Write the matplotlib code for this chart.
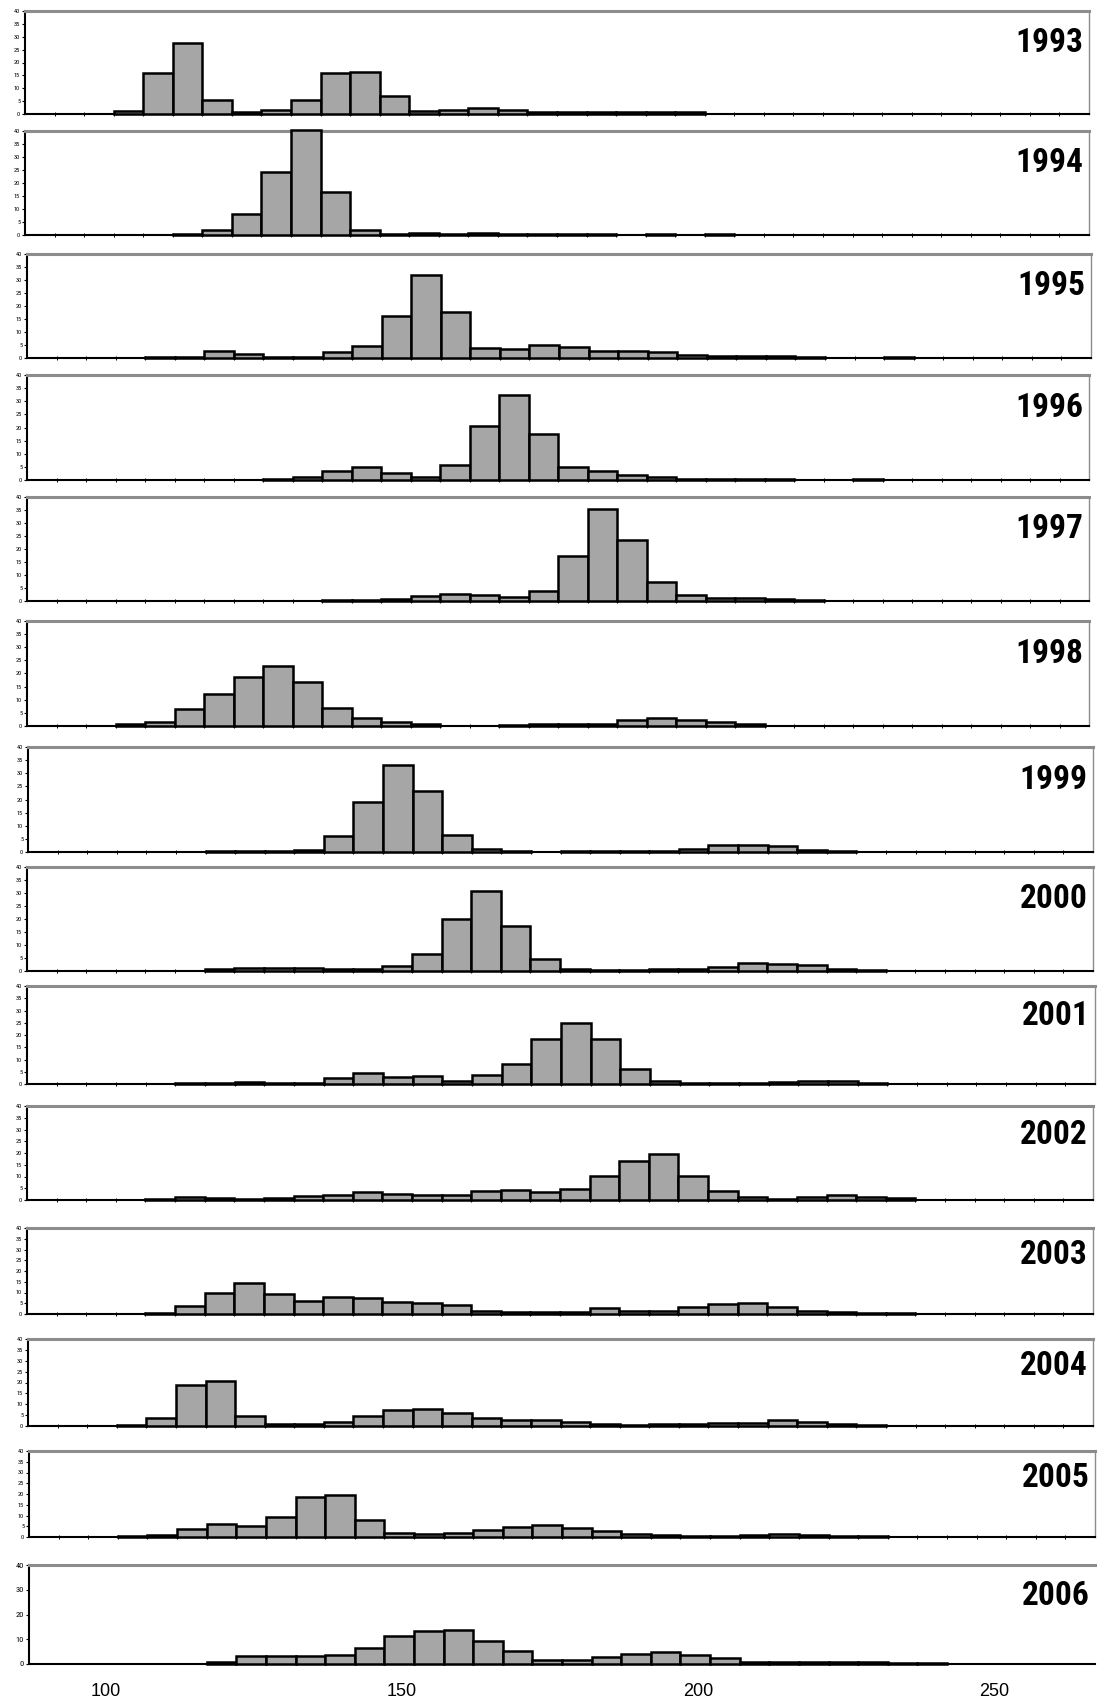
import matplotlib
matplotlib.use("Agg")
import matplotlib.pyplot as plt
import numpy as np

# length classes: 36 bins of 5 units starting at 87
bin_start = 87
bin_width = 5
n_bins = 36

years = ["1993", "1994", "1995", "1996", "1997", "1998", "1999",
         "2000", "2001", "2002", "2003", "2004", "2005", "2006"]

c1993 = [0, 0, 0, 1.3, 15.9, 27.4, 5.3, 0.8, 1.4, 5.5, 15.9, 16.3, 6.8, 1.0, 1.5, 2.2,
         1.5, 0.6, 0.6, 0.8, 0.6, 0.6, 0.6] + [0] * 13
c1994 = [0, 0, 0, 0, 0, 0.3, 1.9, 8.2, 24.4, 40.4, 16.5, 2.0, 0.5, 0.7, 0.5, 0.8,
         0.3, 0.5, 0.5, 0.3, 0, 0.3, 0, 0.3] + [0] * 12
c1995 = [0, 0, 0, 0, 0.2, 0.5, 2.6, 1.7, 0.4, 0.4, 2.2, 4.6, 16, 32, 17.8, 4.0, 3.3,
         5.0, 4.1, 2.6, 2.6, 2.3, 1.0, 0.8, 0.8, 0.8, 0.5, 0, 0, 0.5] + [0] * 6
c1996 = [0, 0, 0, 0, 0, 0, 0, 0, 0.3, 1.0, 3.3, 5.1, 2.7, 1.2, 5.7, 20.6, 32.4, 17.7,
         4.9, 3.3, 2.0, 1.0, 0.5, 0.5, 0.3, 0.3, 0, 0, 0.3] + [0] * 7
c1997 = [0] * 10 + [0.3, 0.3, 0.8, 2.0, 2.6, 2.3, 1.7, 3.7, 17.4, 35.3, 23.6, 7.2,
                    2.2, 1.0, 1.0, 0.8, 0.5] + [0] * 9
c1998 = [0, 0, 0, 0.6, 1.5, 6.4, 12.2, 18.5, 22.7, 16.8, 6.9, 3.1, 1.5, 0.6, 0, 0,
         0.4, 0.6, 0.9, 0.6, 2.2, 2.9, 2.4, 1.6, 0.9] + [0] * 11
c1999 = [0] * 6 + [0.5, 0.5, 0.5, 0.9, 6.0, 18.9, 33.1, 23.1, 6.5, 1.3, 0.5, 0, 0.4,
                   0.4, 0.4, 0.4, 1.1, 2.7, 2.7, 2.2, 0.8, 0.5] + [0] * 8
c2000 = [0] * 6 + [0.6, 1.3, 1.3, 1.0, 0.8, 0.8, 1.9, 6.7, 20.0, 30.6, 17.4, 4.6, 0.8,
                   0.3, 0.3, 0.6, 0.8, 1.4, 2.9, 2.7, 2.4, 0.8, 0.3] + [0] * 7
c2001 = [0] * 5 + [0.4, 0.4, 0.9, 0.6, 0.6, 2.6, 4.4, 3.0, 3.4, 1.3, 3.7, 8.0, 18.4,
                   25.0, 18.4, 6.1, 1.3, 0.6, 0.3, 0.3, 0.9, 1.1, 1.1, 0.6] + [0] * 7
c2002 = [0] * 4 + [0.5, 1.3, 1.0, 0.3, 1.0, 1.6, 2.3, 3.6, 2.7, 2.0, 2.0, 4.0, 4.4, 3.4,
                   4.8, 10.2, 16.8, 19.6, 10.4, 3.7, 1.1, 0.6, 1.1, 2.3, 1.4, 0.7] + [0] * 6
c2003 = [0] * 4 + [0.6, 3.9, 9.9, 14.4, 9.3, 6.2, 8.1, 7.4, 5.4, 5.0, 4.0, 1.6, 0.8, 0.8,
                   0.8, 2.6, 1.6, 1.6, 3.3, 4.7, 5.1, 3.3, 1.3, 1.0, 0.5, 0.5] + [0] * 6
c2004 = [0] * 3 + [0.5, 3.9, 18.8, 20.8, 4.5, 1.0, 1.0, 2.0, 4.8, 7.4, 7.6, 5.9, 3.9, 2.8,
                   2.8, 2.0, 1.0, 0.6, 1.0, 1.0, 1.3, 1.6, 2.9, 2.0, 1.0, 0.5] + [0] * 7
c2005 = [0] * 3 + [0.5, 1.0, 3.7, 5.9, 4.9, 9.4, 18.4, 19.4, 7.7, 1.9, 1.5, 1.9, 3.1, 4.6,
                   5.6, 4.3, 2.8, 1.3, 1.0, 0.6, 0.6, 0.8, 1.2, 1.0, 0.6, 0.4] + [0] * 7
c2006 = [0] * 6 + [1.0, 3.2, 3.4, 3.4, 3.6, 6.5, 11.4, 13.4, 13.6, 9.3, 5.3, 1.6, 1.6,
                   3.0, 4.2, 5.0, 3.6, 2.3, 0.8, 0.8, 0.8, 0.8, 0.8, 0.5, 0.3] + [0] * 5

counts = [c1993, c1994, c1995, c1996, c1997, c1998, c1999,
          c2000, c2001, c2002, c2003, c2004, c2005, c2006]

x_ticks = [100, 150, 200, 250]

# figure layout in pixels
W, H = 1098, 1703
lefts_px = [25, 25, 27, 27, 27, 27, 28, 27, 27, 27, 27, 28, 29, 29]
rights_px = [1089, 1089, 1091, 1089, 1089, 1089, 1093, 1093, 1095, 1093, 1093, 1093, 1095, 1095]
tops = [11, 131, 254, 375, 497, 621, 747, 867, 986, 1106, 1228, 1339, 1451, 1565]
bottoms = [114, 235, 358, 480, 601, 726, 852, 971, 1084, 1200, 1314, 1426, 1537, 1664]

narrow = ["Roboto Condensed", "Roboto", "DejaVu Sans"]

fig = plt.figure(figsize=(W / 100, H / 100), dpi=100)

edges = bin_start + bin_width * np.arange(n_bins + 1)
lefts = edges[:-1]

for i, year in enumerate(years):
    t, b = tops[i], bottoms[i]
    l, r = lefts_px[i], rights_px[i]
    ax = fig.add_axes([l / W, 1 - b / H, (r - l) / W, (b - t) / H])
    vals = np.array(counts[i], dtype=float)
    keep = vals > 0
    ax.bar(lefts[keep], vals[keep], width=bin_width, align="edge",
           color="#a6a6a6", edgecolor="black", linewidth=1.8, clip_on=False, zorder=3)
    ax.set_xlim(edges[0], edges[-1])
    ax.set_ylim(0, 40)

    last = i == len(years) - 1
    if last:
        ax.set_yticks([0, 10, 20, 30, 40])
        ysize = 6
    else:
        ax.set_yticks(np.arange(0, 41, 5))
        ysize = 4.5
    for lab in ax.get_yticklabels():
        lab.set_fontfamily(narrow)
    ax.tick_params(axis="y", labelsize=ysize, length=2, width=0.8, pad=1.5, direction="out")

    if last:
        ax.set_xticks(x_ticks)
        ax.set_xticklabels([str(v) for v in x_ticks], fontsize=13, fontfamily="Liberation Sans")
        ax.tick_params(axis="x", length=0, pad=14)
    else:
        ax.set_xticks(edges[1:-1])
        ax.set_xticklabels([])
        ax.tick_params(axis="x", length=3, width=0.7, direction="inout")

    ax.spines["top"].set_color("#8c8c8c")
    ax.spines["top"].set_linewidth(2.2)
    ax.spines["right"].set_color("#8c8c8c")
    ax.spines["right"].set_linewidth(1.0)
    ax.spines["right"].set_visible(not last)
    ax.spines["left"].set_linewidth(1.5)
    ax.spines["bottom"].set_linewidth(1.5)

    ax.text(0.995, 0.69, year, transform=ax.transAxes, ha="right", va="center",
            fontsize=24, fontweight="bold", fontfamily=narrow)

fig.savefig("out.png", dpi=100)
